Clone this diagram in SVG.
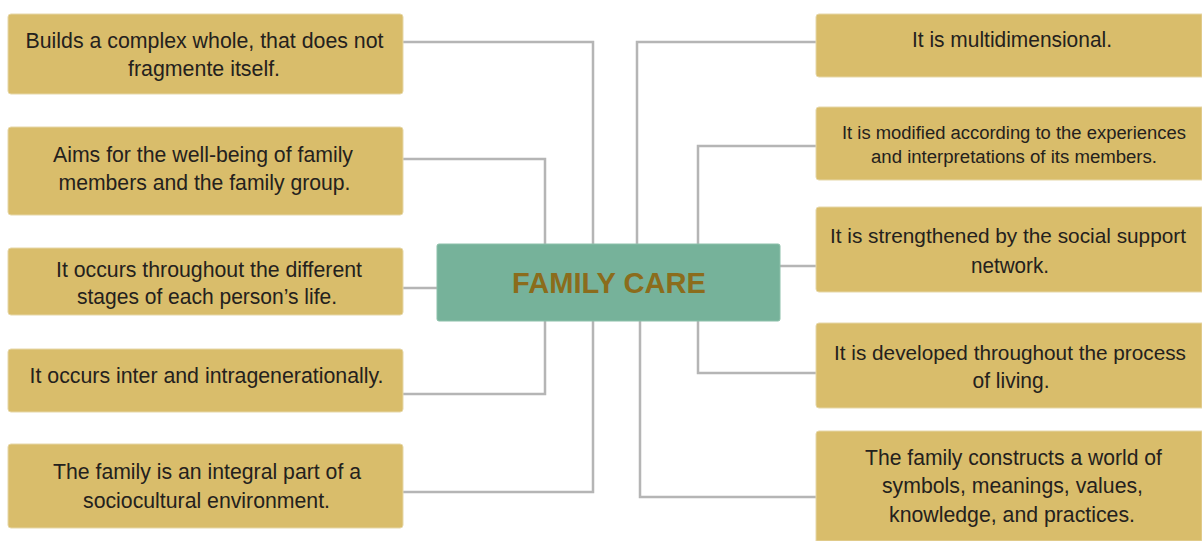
<svg xmlns="http://www.w3.org/2000/svg" width="1202" height="541" viewBox="0 0 1202 541">
<style>
.box{fill:#d9bd6b;stroke:#e6d7a8;stroke-width:1}
.t{font-family:"Liberation Sans",Arial,sans-serif;font-size:22px;fill:#24211d;text-anchor:middle}
.s{font-size:18px}
.n{font-size:21px}
.c{fill:none;stroke:#b5b5b5;stroke-width:2.5}
.hub{fill:#76b29a;stroke:#8cc0aa;stroke-width:1}
.ht{font-family:"Liberation Sans",Arial,sans-serif;font-size:29px;font-weight:bold;fill:#8b6c1c;text-anchor:middle}
</style>
<rect width="1202" height="541" fill="#ffffff"/>
<g id="connectors">
<path class="c" d="M403 42H593V244"/>
<path class="c" d="M403 159H545V244"/>
<path class="c" d="M403 288H437"/>
<path class="c" d="M403 394H545V321"/>
<path class="c" d="M403 492H593V321"/>
<path class="c" d="M816 42H637V244"/>
<path class="c" d="M816 146H698V244"/>
<path class="c" d="M780 266H816"/>
<path class="c" d="M816 373H698V321"/>
<path class="c" d="M816 497H640V321"/>
</g>
<g id="hub">
<rect class="hub" x="437" y="244" width="343" height="77" rx="2"/>
<text class="ht" x="609" y="293" textLength="194" lengthAdjust="spacingAndGlyphs">FAMILY CARE</text>
</g>
<g id="l1">
<rect class="box" x="8" y="14" width="395" height="80" rx="3"/>
<text class="t" x="204.5" y="48" textLength="358" lengthAdjust="spacingAndGlyphs">Builds a complex whole, that does not</text>
<text class="t" x="204" y="76" textLength="152" lengthAdjust="spacingAndGlyphs">fragmente itself.</text>
</g>
<g id="l2">
<rect class="box" x="8" y="127" width="395" height="88" rx="3"/>
<text class="t" x="203" y="162" textLength="300" lengthAdjust="spacingAndGlyphs">Aims for the well-being of family</text>
<text class="t" x="204.5" y="190" textLength="292" lengthAdjust="spacingAndGlyphs">members and the family group.</text>
</g>
<g id="l3">
<rect class="box" x="8" y="248" width="395" height="67" rx="3"/>
<text class="t" x="209" y="277" textLength="306" lengthAdjust="spacingAndGlyphs">It occurs throughout the different</text>
<text class="t" x="207" y="304" textLength="260" lengthAdjust="spacingAndGlyphs">stages of each person’s life.</text>
</g>
<g id="l4">
<rect class="box" x="8" y="349" width="395" height="63" rx="3"/>
<text class="t" x="206.5" y="383" textLength="354" lengthAdjust="spacingAndGlyphs">It occurs inter and intragenerationally.</text>
</g>
<g id="l5">
<rect class="box" x="8" y="444" width="395" height="84" rx="3"/>
<text class="t" x="207" y="479" textLength="308" lengthAdjust="spacingAndGlyphs">The family is an integral part of a</text>
<text class="t" x="206.5" y="508" textLength="247" lengthAdjust="spacingAndGlyphs">sociocultural environment.</text>
</g>
<g id="r1">
<path class="box" d="M1202 14H819Q816 14 816 17V74Q816 77 819 77H1202Z"/>
<text class="t" x="1012" y="47" textLength="200" lengthAdjust="spacingAndGlyphs">It is multidimensional.</text>
</g>
<g id="r2">
<path class="box" d="M1202 107H819Q816 107 816 110V177Q816 180 819 180H1202Z"/>
<text class="t s" x="1014" y="139" textLength="344" lengthAdjust="spacingAndGlyphs">It is modified according to the experiences</text>
<text class="t s" x="1014" y="163" textLength="286" lengthAdjust="spacingAndGlyphs">and interpretations of its members.</text>
</g>
<g id="r3">
<path class="box" d="M1202 207H819Q816 207 816 210V289Q816 292 819 292H1202Z"/>
<text class="t n" x="1008" y="243" textLength="356" lengthAdjust="spacingAndGlyphs">It is strengthened by the social support</text>
<text class="t" x="1010" y="273" textLength="78" lengthAdjust="spacingAndGlyphs">network.</text>
</g>
<g id="r4">
<path class="box" d="M1202 323H819Q816 323 816 326V405Q816 408 819 408H1202Z"/>
<text class="t n" x="1010" y="360" textLength="352" lengthAdjust="spacingAndGlyphs">It is developed throughout the process</text>
<text class="t" x="1011" y="388" textLength="77" lengthAdjust="spacingAndGlyphs">of living.</text>
</g>
<g id="r5">
<path class="box" d="M1202 431H819Q816 431 816 434V541H1202Z"/>
<text class="t" x="1013.5" y="465" textLength="297" lengthAdjust="spacingAndGlyphs">The family constructs a world of</text>
<text class="t" x="1012.5" y="493" textLength="261" lengthAdjust="spacingAndGlyphs">symbols, meanings, values,</text>
<text class="t" x="1012" y="522" textLength="246" lengthAdjust="spacingAndGlyphs">knowledge, and practices.</text>
</g>
</svg>
